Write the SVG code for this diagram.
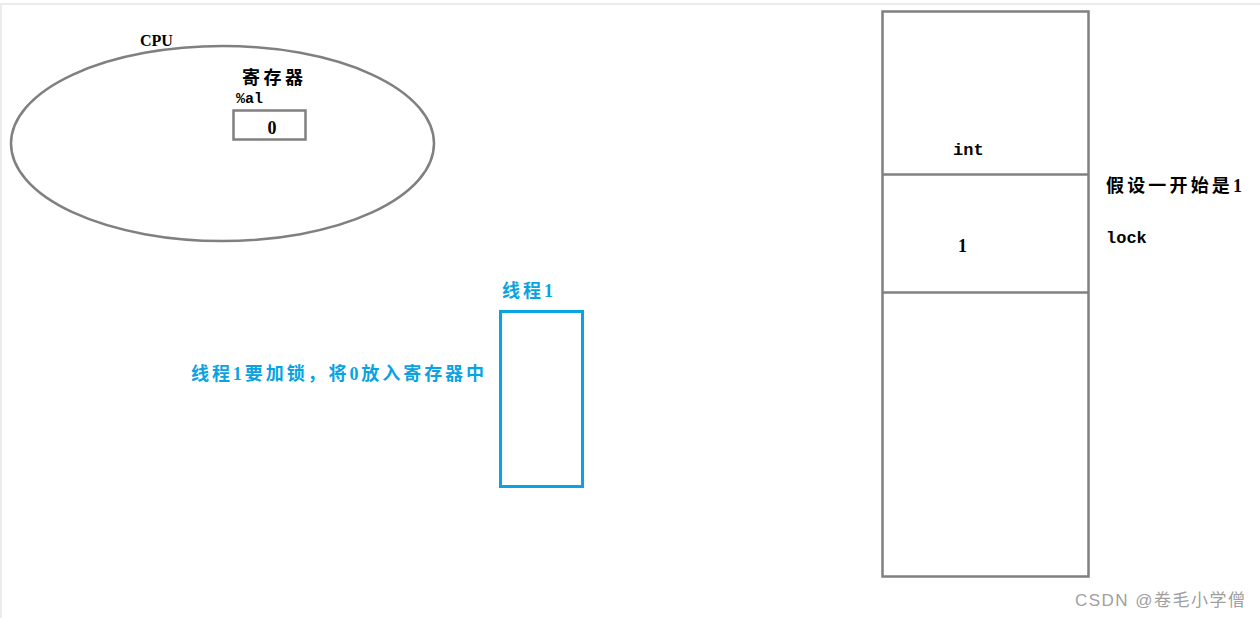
<svg xmlns="http://www.w3.org/2000/svg" width="1260" height="618" viewBox="0 0 1260 618">
<style>
.g{fill:none;stroke:#808080;stroke-width:2.5}
.b{fill:none;stroke:#0aa3e2;stroke-width:3}
.t{font-family:"Liberation Serif","Noto Sans CJK SC",serif;font-weight:bold;fill:#000}
.m{font-family:"Liberation Mono","Noto Sans CJK SC",monospace;font-weight:bold;fill:#000}
.bl{font-family:"Liberation Serif","Noto Sans CJK SC",serif;font-weight:bold;fill:#0aa3e2}
.w{font-family:"Liberation Sans","Noto Sans CJK SC",sans-serif;fill:#a0a0a0}
</style>
<rect x="0" y="0" width="1260" height="618" fill="#fff"/>
<line x1="0" y1="4" x2="1260" y2="4" stroke="#ececec" stroke-width="2"/>
<line x1="1" y1="4" x2="1" y2="618" stroke="#ececec" stroke-width="2"/>
<g id="cpu">
<ellipse class="g" cx="222.5" cy="143.5" rx="211.5" ry="97.5"/>
<text class="t" x="140" y="46" font-size="16">CPU</text>
<text class="t" x="242" y="84" font-size="18" textLength="61">寄存器</text>
</g>
<g id="register">
<text class="m" x="236" y="103" font-size="15">%al</text>
<rect class="g" x="233.5" y="110.5" width="72" height="29"/>
<text class="t" x="272" y="134" font-size="18" text-anchor="middle">0</text>
</g>
<g id="thread1">
<text class="bl" x="502" y="297" font-size="18" textLength="51">线程1</text>
<rect class="b" x="500.5" y="311.5" width="82" height="175"/>
<text class="bl" x="191" y="380" font-size="18" textLength="293">线程1要加锁，将0放入寄存器中</text>
</g>
<g id="memory">
<rect class="g" x="882.5" y="11.5" width="206" height="565"/>
<line class="g" x1="882.5" y1="174.5" x2="1088.5" y2="174.5"/>
<line class="g" x1="882.5" y1="292.5" x2="1088.5" y2="292.5"/>
<text class="m" x="953" y="155" font-size="17">int</text>
<text class="t" x="958" y="252" font-size="18">1</text>
</g>
<g id="lock">
<text class="t" x="1106" y="192" font-size="18" textLength="136">假设一开始是1</text>
<text class="m" x="1106" y="243" font-size="17">lock</text>
</g>
<g id="connectors"></g>
<text class="w" x="1075" y="606" font-size="17" textLength="170">CSDN @卷毛小学僧</text>
</svg>
